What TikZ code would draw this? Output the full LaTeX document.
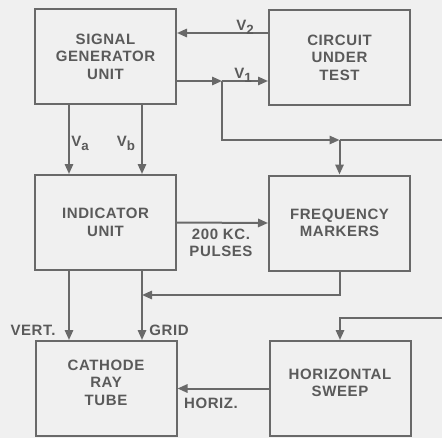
\documentclass[tikz,border=0pt]{standalone}
\usepackage{fontspec}
\setmainfont{Liberation Sans}[LetterSpace=4]
\definecolor{paper}{RGB}{240, 240, 240}
\definecolor{inkgray}{RGB}{90, 90, 90}
\definecolor{linegray}{RGB}{105, 105, 105}
\usetikzlibrary{arrows.meta}
\newcommand{\lowsub}[1]{\raisebox{-2.5pt}{\fontsize{8}{8}\selectfont #1}}

\tikzset{
  unitbox/.style={draw=linegray, line width=1.2pt, minimum width=84.6pt, minimum height=57pt,
    align=center, text=inkgray, font=\bfseries\fontsize{9}{10.5}\selectfont},
  wire/.style={draw=linegray, line width=1.2pt},
  feed/.style={wire, -{Triangle[length=6pt, width=5pt]}},
  tag/.style={text=inkgray, font=\bfseries\fontsize{9}{10.5}\selectfont, align=center, inner sep=0pt}
}

\begin{document}
\begin{tikzpicture}[x=0.6pt, y=-0.6pt]
  \fill[paper] (0, 0) rectangle (442, 438);
  \useasboundingbox (0, 0) rectangle (442, 438);

  \node[unitbox] (sgu) at (105.5, 56.5) {SIGNAL\\GENERATOR\\UNIT};
  \node[unitbox] (cut) at (339.5, 57.5) {CIRCUIT\\UNDER\\TEST};
  \node[unitbox] (ind) at (105.5, 222.5) {INDICATOR\\UNIT};
  \node[unitbox] (frq) at (339.5, 223) {FREQUENCY\\MARKERS};
  \node[unitbox, text depth=7pt] (crt) at (106, 388.5) {CATHODE\\RAY\\TUBE};
  \node[unitbox, text depth=7pt] (hsw) at (340, 388.5) {HORIZONTAL\\SWEEP};

  \coordinate (v2) at (222, 33);
  \coordinate (v1) at (222, 81);
  \coordinate (va) at (69, 0);
  \coordinate (vb) at (142, 0);
  \coordinate (tap) at (339.5, 140);
  \coordinate (out1) at (442, 140);
  \coordinate (mrk) at (142, 295);
  \coordinate (in2) at (442, 318);

  \draw[feed] (cut.west |- v2) -- (sgu.east |- v2);
  \draw[feed] (sgu.east |- v1) -- (v1);
  \draw[feed] (v1) -- (cut.west |- v1);
  \draw[feed] (v1) |- (tap);
  \draw[wire] (tap) -- (out1);
  \draw[feed] (tap) -- (frq.north);
  \draw[feed] (sgu.south -| va) -- (ind.north -| va);
  \draw[feed] (sgu.south -| vb) -- (ind.north -| vb);
  \draw[feed] (ind.east) -- (frq.west);
  \draw[feed] (frq.south) |- (mrk);
  \draw[feed] (ind.south -| va) -- (crt.north -| va);
  \draw[feed] (ind.south -| vb) -- (crt.north -| vb);
  \draw[feed] (in2) -| (hsw.north);
  \draw[feed] (hsw.west) -- (crt.east);

  \node[tag] (lv2) at (245, 27) {V\lowsub{2}};
  \node[tag] (lv1) at (243, 75) {V\lowsub{1}};
  \node[tag] (lva) at (80, 143) {V\lowsub{a}};
  \node[tag] (lvb) at (126, 143) {V\lowsub{b}};
  \node[tag] (lpul) at (221, 243) {200 KC.\\PULSES};
  \node[tag] (lvert) at (33, 330) {VERT.};
  \node[tag] (lgrid) at (169, 330) {GRID};
  \node[tag] (lhor) at (211, 403) {HORIZ.};
\end{tikzpicture}
\end{document}
